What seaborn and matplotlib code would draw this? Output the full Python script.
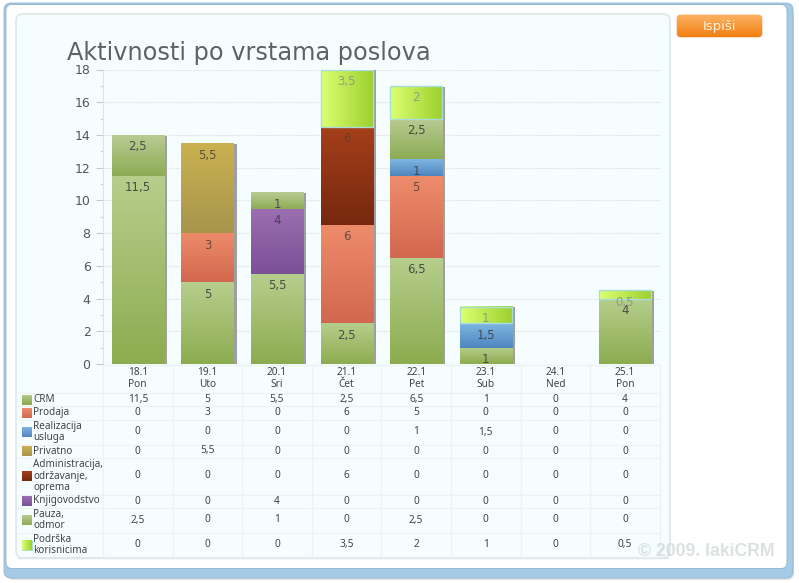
import numpy as np
import matplotlib
matplotlib.use('Agg')
import matplotlib.pyplot as plt
import matplotlib.patheffects as pe
from matplotlib.colors import LinearSegmentedColormap
from matplotlib.patches import FancyBboxPatch, Rectangle
import seaborn as sns

# data
days = ['18.1', '19.1', '20.1', '21.1', '22.1', '23.1', '24.1', '25.1']
weekdays = ['Pon', 'Uto', 'Sri', 'Čet', 'Pet', 'Sub', 'Ned', 'Pon']
names = ['CRM', 'Prodaja', 'Realizacija\nusluga', 'Privatno',
         'Administracija,\nodržavanje,\noprema', 'Knjigovodstvo', 'Pauza,\nodmor',
         'Podrška\nkorisnicima']
crm = [11.5, 5, 5.5, 2.5, 6.5, 1, 0, 4]
prodaja = [0, 3, 0, 6, 5, 0, 0, 0]
realizacija = [0, 0, 0, 0, 1, 1.5, 0, 0]
privatno = [0, 5.5, 0, 0, 0, 0, 0, 0]
administracija = [0, 0, 0, 6, 0, 0, 0, 0]
knjigovodstvo = [0, 0, 4, 0, 0, 0, 0, 0]
pauza = [2.5, 0, 1, 0, 2.5, 0, 0, 0]
podrska = [0, 0, 0, 3.5, 2, 1, 0, 0.5]
series = [crm, prodaja, realizacija, privatno, administracija, knjigovodstvo, pauza, podrska]

# top colour, bottom colour
colors = [('#b6ce8c', '#8dac50'), ('#ee8c6a', '#d2684f'), ('#7db6e0', '#4f86c0'),
          ('#c9b151', '#a8954c'), ('#a53f1a', '#76280f'), ('#9c6eb2', '#7b5094'),
          ('#b8cb92', '#8dac55'), ('#dcff72', '#9cd02e')]
label_colors = ['#4a4f44', '#6a4a40', '#3f4a55', '#5a5438', '#6e3a26', '#4f3a5c', '#4a4f44', '#8f9f7c']

# row edges of the table, pixels
row_edges = [393, 406, 419.5, 444.5, 457.5, 494.5, 507.5, 532.5, 557]
col_left = 103
col_w = 69.6

W, H = 799, 583
sns.set_style('white')
plt.rcParams['font.family'] = ['Noto Sans', 'DejaVu Sans']
fig = plt.figure(figsize=(W / 100, H / 100), dpi=100, facecolor='white')

bg = fig.add_axes([0, 0, 1, 1], zorder=0)
bg.set_xlim(0, W)
bg.set_ylim(H, 0)
bg.axis('off')


def gradient(ax, x0, x1, y0, y1, c1, c2, horizontal=False, clip=None, zorder=3):
    cmap = LinearSegmentedColormap.from_list('g', [c1, c2])
    arr = np.linspace(0, 1, 64)
    arr = arr.reshape(1, -1) if horizontal else arr.reshape(-1, 1)
    xl, yl = ax.get_xlim(), ax.get_ylim()
    im = ax.imshow(arr, extent=(x0, x1, y0, y1), origin='upper', cmap=cmap, aspect='auto',
                   zorder=zorder, interpolation='bilinear')
    if clip is not None:
        im.set_clip_path(clip)
    ax.set_xlim(xl)
    ax.set_ylim(yl)
    return im


# window frame
bg.add_patch(FancyBboxPatch((7, 8), 787, 572, boxstyle='round,pad=0,rounding_size=7',
                            fc='#c8c8c8', ec='none', alpha=0.6, zorder=1))
bg.add_patch(FancyBboxPatch((4, 3), 789, 575, boxstyle='round,pad=0,rounding_size=7',
                            fc='#a6cbe6', ec='#8fb6d2', lw=0.6, zorder=2))
bg.add_patch(FancyBboxPatch((6, 4.5), 781, 564, boxstyle='round,pad=0,rounding_size=6',
                            fc='white', ec='#8fb3cc', lw=0.6, zorder=3))
# light panel
bg.add_patch(FancyBboxPatch((16, 14), 654, 544, boxstyle='round,pad=0,rounding_size=7',
                            fc='#f5fdff', ec='#dde8e8', lw=1.2, zorder=4))

# button
btn = FancyBboxPatch((677, 15), 85, 22, boxstyle='round,pad=0,rounding_size=4',
                     fc='#f58a1f', ec='#f8b070', lw=0.6, zorder=5)
bg.add_patch(btn)
gradient(bg, 677, 762, 37, 15, '#fbb262', '#f27f10', clip=btn, zorder=6)
bg.text(719.5, 26.5, 'Ispiši', color='#fff2e0', fontsize=9.5, family=['DejaVu Sans'],
        ha='center', va='center', zorder=7)

# table grid
line_c = '#edf3f3'
for y in [364.5] + row_edges:
    bg.plot([18 if 364.5 < y < 557 else col_left, col_left + 8 * col_w], [y, y], color=line_c, lw=1, zorder=5)
for i in range(9):
    bg.plot([col_left + i * col_w] * 2, [364.5, 557], color=line_c, lw=1, zorder=5)
bg.plot([18, 668], [557.5, 557.5], color='#dfe6e6', lw=1, zorder=5)

for i in range(8):
    cx = col_left + (i + 0.5) * col_w
    bg.text(cx, 378.5, days[i] + '\n' + weekdays[i], fontsize=7.3, color='#444444', ha='center',
            va='center', linespacing=1.02, zorder=6)

for r, (name, vals) in enumerate(zip(names, series)):
    cy = (row_edges[r] + row_edges[r + 1]) / 2
    bg.text(33, cy, name, fontsize=7.2, color='#444444', ha='left', va='center', linespacing=1.05, zorder=6)
    sw = Rectangle((22, cy - 5), 10, 10, fc=colors[r][1], ec='#a7dcd9' if r == 7 else 'none', lw=0.6, zorder=6)
    bg.add_patch(sw)
    gradient(bg, 22, 32, cy + 5, cy - 5, colors[r][0], colors[r][1], horizontal=r == 7, clip=sw, zorder=6)
    for i, v in enumerate(vals):
        bg.text(col_left + (i + 0.5) * col_w, cy, f'{v:g}'.replace('.', ','), fontsize=7.3,
                color='#444444', ha='center', va='center', zorder=6)

bg.text(706.5, 552, '© 2009. IakiCRM', fontsize=12.7, fontweight='bold', family=['Liberation Sans', 'DejaVu Sans'],
        color='#c4cfc8', alpha=0.6, ha='center', va='center', zorder=9)
bg.text(67, 53, 'Aktivnosti po vrstama poslova', fontsize=17.25, family=['DejaVu Sans'], color='#5f6264',
        ha='left', va='center', zorder=6)

# chart
ax = fig.add_axes([col_left / W, 1 - 364 / H, 8 * col_w / W, (364 - 69.5) / H], zorder=2)
ax.patch.set_alpha(0)
bottom = np.zeros(len(days))
for r, vals in enumerate(series):
    vals = np.array(vals, dtype=float)
    n_before = len(ax.containers)
    sns.barplot(x=days, y=vals, bottom=bottom, color=colors[r][1], saturation=1, width=0.75, ax=ax,
                order=days, errorbar=None, linewidth=0)
    bars = ax.containers[n_before]
    for i, bar in enumerate(bars):
        if vals[i] == 0:
            bar.set_visible(False)
            continue
        bar.set_path_effects([pe.SimplePatchShadow(offset=(2.2, -0.5), shadow_rgbFace='#8f8f8f', alpha=0.85),
                              pe.Normal()])
        x0, x1 = bar.get_x(), bar.get_x() + bar.get_width()
        y0, y1 = bar.get_y(), bar.get_y() + bar.get_height()
        gradient(ax, x0, x1, y0, y1, colors[r][0], colors[r][1], horizontal=r == 7, zorder=3)
        if r == 7:
            ax.add_patch(Rectangle((x0, y0), x1 - x0, y1 - y0, fc='none', ec='#a7dcd9', lw=1, zorder=4))
        ax.annotate(f'{vals[i]:g}'.replace('.', ','), (i, y1), xytext=(0, -8.6), textcoords='offset points',
                    ha='center', va='center', fontsize=8.5, family=['DejaVu Sans'], color=label_colors[r],
                    zorder=6, annotation_clip=False)
    bottom = bottom + vals

ax.set_xlim(-0.5, 7.5)
ax.set_ylim(0, 18)
ax.set_xlabel('')
ax.set_ylabel('')
ax.set_xticks([])
ax.set_yticks(range(0, 20, 2))
ax.set_yticks(range(1, 19, 2), minor=True)
ax.grid(axis='y', which='major', color='#dcdfdf', lw=0.9, ls=(0, (1, 1)))
ax.set_axisbelow(True)
ax.tick_params(axis='y', which='major', length=5, width=0.8, color='#c4c8c8', left=True, labelsize=9,
               labelcolor='#555555', pad=4)
ax.tick_params(axis='y', which='minor', length=2, width=0.8, color='#d0d4d4', left=True)
for t in ax.get_yticklabels():
    t.set_family(['DejaVu Sans'])
for s in ['top', 'right', 'bottom']:
    ax.spines[s].set_visible(False)
ax.spines['left'].set_color('#dfe3e3')
ax.spines['left'].set_linestyle((0, (1, 1)))

fig.savefig('out.png', dpi=100, facecolor='white')
